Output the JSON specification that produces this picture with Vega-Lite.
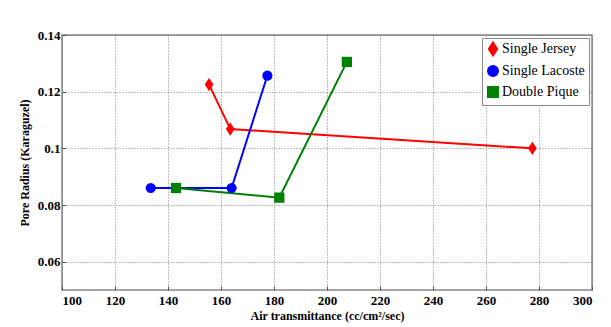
{
  "$schema": "https://vega.github.io/schema/vega-lite/v6.json",
  "width": 530,
  "height": 255,
  "autosize": {"type": "none"},
  "padding": {"left": 62, "top": 35, "right": 19, "bottom": 37},
  "background": "white",
  "config": {
    "font": "Liberation Serif",
    "view": {"stroke": "#888888", "strokeWidth": 1.5},
    "axis": {"labelFont": "Liberation Serif", "titleFont": "Liberation Serif"},
    "legend": {"labelFont": "Liberation Serif"}
  },
  "data": {
    "values": [
      {"series": "Single Jersey", "x": 155.5, "y": 0.1225},
      {"series": "Single Jersey", "x": 163.5, "y": 0.1068},
      {"series": "Single Jersey", "x": 277.5, "y": 0.1},
      {"series": "Single Lacoste", "x": 133.5, "y": 0.086},
      {"series": "Single Lacoste", "x": 164, "y": 0.086},
      {"series": "Single Lacoste", "x": 177.5, "y": 0.1257},
      {"series": "Double Pique", "x": 143, "y": 0.086},
      {"series": "Double Pique", "x": 182, "y": 0.0826},
      {"series": "Double Pique", "x": 207.5, "y": 0.1305}
    ]
  },
  "encoding": {
    "x": {
      "field": "x", "type": "quantitative",
      "scale": {"domain": [100, 300], "nice": false, "zero": false},
      "axis": {
        "title": "Air transmittance (cc/cm²/sec)",
        "values": [100,120,140,160,180,200,220,240,260,280,300],
        "titleFontWeight": "bold", "titleFontSize": 12, "titleColor": "#000",
        "labelFontWeight": "bold", "labelFontSize": 13, "labelColor": "#000",
        "grid": true, "gridDash": [1, 2], "gridColor": "#555", "gridWidth": 0.8,
        "domain": false, "tickColor": "#555", "tickSize": -4, "labelPadding": 8, "titlePadding": 3
      }
    },
    "y": {
      "field": "y", "type": "quantitative",
      "scale": {"domain": [0.05, 0.14], "nice": false, "zero": false},
      "axis": {
        "title": "Pore Radius (Karaguzel)",
        "values": [0.06, 0.08, 0.1, 0.12, 0.14],
        "format": ".2~f",
        "titleFontWeight": "bold", "titleFontSize": 12, "titleColor": "#000",
        "labelFontWeight": "bold", "labelFontSize": 13, "labelColor": "#000",
        "grid": true, "gridDash": [1, 2], "gridColor": "#555", "gridWidth": 0.8,
        "domain": false, "tickColor": "#555", "tickSize": -4, "labelPadding": 6, "titlePadding": 6
      }
    },
    "color": {
      "field": "series", "type": "nominal",
      "scale": {"domain": ["Single Jersey", "Single Lacoste", "Double Pique"], "range": ["#ff0000", "#0000ff", "#008000"]},
      "legend": {
        "title": null, "orient": "top-right", "offset": 3,
        "labelFontSize": 14, "labelColor": "#000",
        "strokeColor": "#888", "fillColor": "white", "padding": 4,
        "symbolSize": 110, "rowPadding": 3, "labelOffset": 2
      }
    }
  },
  "layer": [
    {
      "mark": {"type": "line", "strokeWidth": 2},
      "encoding": {"order": {"field": "x"}}
    },
    {
      "mark": {"type": "point", "filled": true, "opacity": 1},
      "encoding": {
        "shape": {
          "field": "series", "type": "nominal",
          "scale": {"domain": ["Single Jersey", "Single Lacoste", "Double Pique"], "range": ["M0,-1.3L0.85,0L0,1.3L-0.85,0Z", "circle", "square"]}
        },
        "size": {"value": 105}
      }
    }
  ]
}
